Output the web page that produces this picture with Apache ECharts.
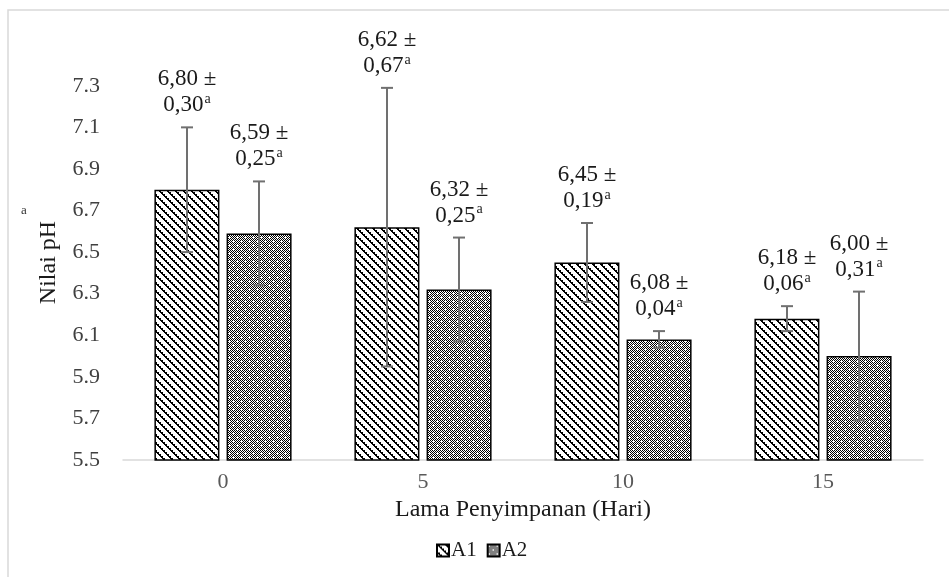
<!DOCTYPE html>
<html>
<head>
<meta charset="utf-8">
<script src="https://cdn.jsdelivr.net/npm/echarts@6/dist/echarts.min.js"></script>
<style>
  html, body { margin: 0; padding: 0; background: #fff; }
  #chart { width: 949px; height: 577px; }
</style>
</head>
<body>
<div id="chart"></div>
<script>
// data
const days = ['0', '5', '10', '15'];
const a1Mean = [6.80, 6.62, 6.45, 6.18];
const a1Sd = [0.30, 0.67, 0.19, 0.06];
const a1Sig = ['a', 'a', 'a', 'a'];
const a2Mean = [6.59, 6.32, 6.08, 6.00];
const a2Sd = [0.25, 0.25, 0.04, 0.31];
const a2Sig = ['a', 'a', 'a', 'a'];
const yMin = 5.5;
const yMax = 7.4;
const yStep = 0.2;

const FONT = '"Liberation Serif", "Times New Roman", serif';

// small repeating tiles for the hatch fills
function makePattern(kind) {
  const c = document.createElement('canvas');
  c.width = 8;
  c.height = 8;
  const ctx = c.getContext('2d');
  ctx.fillStyle = '#fff';
  ctx.fillRect(0, 0, 8, 8);
  ctx.fillStyle = '#000';
  for (let y = 0; y < 8; y++) {
    for (let x = 0; x < 8; x++) {
      let black;
      if (kind === 'diag') {
        const d = ((x - y) % 8 + 8) % 8;
        black = d < 2 || (d === 2 && x % 2 === 0);
      } else {
        black = (x + y) % 2 === 0;
        const spots = [[1, 1], [0, 1], [2, 1], [1, 0], [1, 2], [5, 5], [4, 5], [6, 5], [5, 4], [5, 6]];
        if (spots.some(p => p[0] === x && p[1] === y)) black = false;
        if ((x === 3 && y === 3) || (x === 7 && y === 7)) black = true;
      }
      if (black) ctx.fillRect(x, y, 1, 1);
    }
  }
  return { image: c, repeat: 'repeat' };
}

const fmt = v => v.toFixed(2).replace('.', ',');

function errorSeries(name, means, sds, sig, offset) {
  const data = means.map((m, i) => [i, m, sds[i], sig[i]]);
  return {
    name: name + ' err',
    type: 'custom',
    z: 5,
    data: data,
    renderItem: function (params, api) {
      const i = api.value(0);
      const m = api.value(1);
      const sd = api.value(2);
      const top = api.coord([i, m + sd]);
      const bot = api.coord([i, m - sd]);
      const x = top[0] + offset;
      const cap = 6;
      const lineStyle = { stroke: '#707070', lineWidth: 2 };
      return {
        type: 'group',
        children: [
          { type: 'line', shape: { x1: x, y1: top[1], x2: x, y2: bot[1] }, style: lineStyle },
          { type: 'line', shape: { x1: x - cap, y1: top[1], x2: x + cap, y2: top[1] }, style: lineStyle },
          { type: 'line', shape: { x1: x - cap, y1: bot[1], x2: x + cap, y2: bot[1] }, style: lineStyle },
          {
            type: 'text',
            style: {
              x: x,
              y: top[1] - 9,
              text: '{n|' + fmt(m) + ' ±}\n{n|' + fmt(sd) + '}{s|' + data[params.dataIndex][3] + '}',
              align: 'center',
              verticalAlign: 'bottom',
              fill: '#1a1a1a',
              rich: {
                n: { fontFamily: FONT, fontSize: 23, lineHeight: 26, fill: '#1a1a1a' },
                s: { fontFamily: FONT, fontSize: 14, lineHeight: 26, verticalAlign: 'top', fill: '#1a1a1a', padding: [0, 0, 0, 1] }
              }
            }
          }
        ]
      };
    }
  };
}

const chart = echarts.init(document.getElementById('chart'));

const option = {
  backgroundColor: '#fff',
  animation: false,
  textStyle: { fontFamily: FONT },
  graphic: [
    {
      type: 'rect',
      shape: { x: 8, y: 10, width: 960, height: 600 },
      style: { fill: 'none', stroke: '#d9d9d9', lineWidth: 1.5 }
    },
    {
      type: 'text',
      left: 21,
      top: 204,
      style: { text: 'a', font: '13px ' + FONT, fill: '#333' }
    }
  ],
  legend: {
    left: 431,
    top: 535,
    itemWidth: 12,
    itemHeight: 12,
    itemGap: 10,
    icon: 'rect',
    data: ['A1', 'A2'],
    textStyle: { fontFamily: FONT, fontSize: 21, color: '#1a1a1a', padding: [0, 0, 0, -3] }
  },
  grid: {
    left: 123,
    right: 26,
    top: 65,
    bottom: 117
  },
  xAxis: {
    type: 'category',
    data: days,
    name: 'Lama Penyimpanan (Hari)',
    nameLocation: 'middle',
    nameGap: 38,
    nameTextStyle: { fontFamily: FONT, fontSize: 24, color: '#1a1a1a' },
    axisLine: { lineStyle: { color: '#d9d9d9', width: 1.5 } },
    axisTick: { show: false },
    axisLabel: { fontFamily: FONT, fontSize: 22, color: '#595959', margin: 11 }
  },
  yAxis: {
    type: 'value',
    min: yMin,
    max: yMax,
    interval: yStep,
    name: 'Nilai pH',
    nameLocation: 'middle',
    nameGap: 62,
    nameTextStyle: { fontFamily: FONT, fontSize: 24, color: '#1a1a1a' },
    axisLine: { show: false },
    axisTick: { show: false },
    splitLine: { show: false },
    axisLabel: {
      fontFamily: FONT,
      fontSize: 22,
      color: '#404040',
      margin: 23,
      showMaxLabel: false,
      formatter: v => v.toFixed(1)
    }
  },
  series: [
    {
      name: 'A1',
      type: 'bar',
      data: a1Mean,
      barWidth: 65,
      barGap: '11%',
      itemStyle: { color: makePattern('diag'), borderColor: '#000', borderWidth: 1.5 }
    },
    {
      name: 'A2',
      type: 'bar',
      data: a2Mean,
      barWidth: 65,
      itemStyle: { color: makePattern('check'), borderColor: '#000', borderWidth: 1.5 }
    },
    errorSeries('A1', a1Mean, a1Sd, a1Sig, -36),
    errorSeries('A2', a2Mean, a2Sd, a2Sig, 36)
  ]
};

chart.setOption(option);
</script>
</body>
</html>
